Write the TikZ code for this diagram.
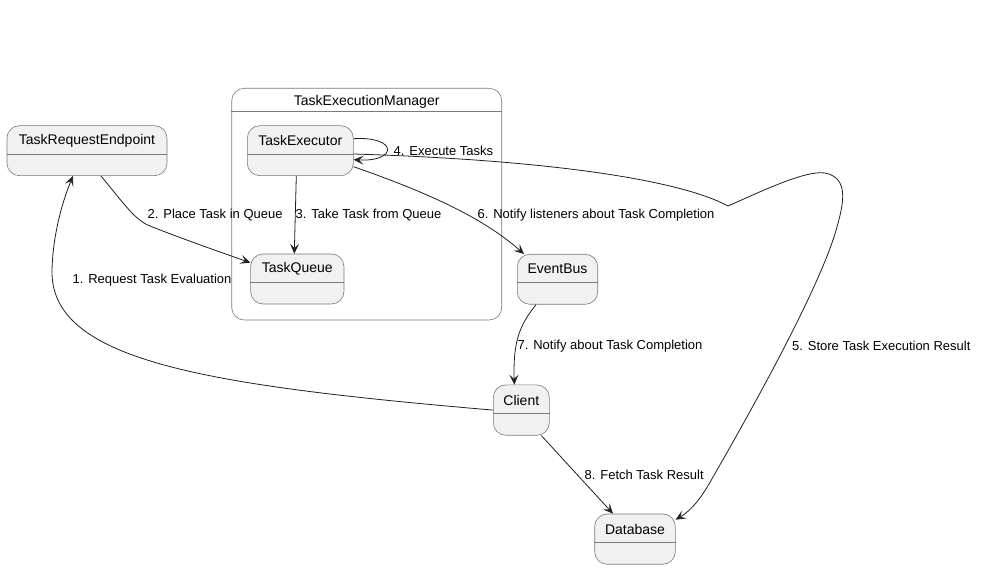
\documentclass[tikz,border=0pt]{standalone}
\usepackage{fontspec}
\setmainfont{Liberation Sans}
\usetikzlibrary{calc,arrows.meta}
\definecolor{stfill}{HTML}{F1F1F1}
\definecolor{stline}{HTML}{7A7A7A}
\definecolor{arline}{HTML}{202020}
\begin{document}
\begin{tikzpicture}[x=1pt,y=-1pt,
  statebox/.style={draw=stline,line width=0.6pt,fill=stfill,rounded corners=12.5pt,inner sep=0pt},
  clusterbox/.style={draw=stline,line width=0.6pt,fill=white,rounded corners=12.5pt,inner sep=0pt},
  divider/.style={draw=stline,line width=0.6pt},
  stname/.style={font=\fontsize{14}{16}\selectfont,inner sep=0pt,anchor=center},
  elabel/.style={font=\fontsize{13}{15}\selectfont,inner sep=0pt,anchor=west,text=black},
  conn/.style={draw=arline,line width=0.8pt,-{Stealth[length=10pt,width=9pt,inset=4.5pt]}}
]
\useasboundingbox (0,0) rectangle (986,569);
\fill[white] (0,0) rectangle (986,569);

% cluster
\node[clusterbox,minimum width=270pt,minimum height=231.7pt] (tem) at (366.7,204.15) {};
\draw[divider] (tem.west |- 0,111.7) -- (tem.east |- 0,111.7);
\node[stname] (tem-t) at (366.7,102) {TaskExecutionManager};

% states
\node[statebox,minimum width=160pt,minimum height=50pt] (tre) at (87,150.7) {};
\draw[divider] (tre.west |- 0,154) -- (tre.east |- 0,154);
\node[stname] (tre-t) at (87,140.5) {TaskRequestEndpoint};

\node[statebox,minimum width=106pt,minimum height=50pt] (exe) at (300.3,150.7) {};
\draw[divider] (exe.west |- 0,154) -- (exe.east |- 0,154);
\node[stname] (exe-t) at (300.3,140.5) {TaskExecutor};

\node[statebox,minimum width=93.3pt,minimum height=50pt] (que) at (297.3,279) {};
\draw[divider] (que.west |- 0,282.3) -- (que.east |- 0,282.3);
\node[stname] (que-t) at (297.3,268.5) {TaskQueue};

\node[statebox,minimum width=80.4pt,minimum height=50pt] (bus) at (557.5,279.3) {};
\draw[divider] (bus.west |- 0,282.7) -- (bus.east |- 0,282.7);
\node[stname] (bus-t) at (557.5,269) {EventBus};

\node[statebox,minimum width=56pt,minimum height=50.3pt] (cli) at (521.3,410.1) {};
\draw[divider] (cli.west |- 0,413.3) -- (cli.east |- 0,413.3);
\node[stname] (cli-t) at (521.3,400) {Client};

\node[statebox,minimum width=80.6pt,minimum height=50.3pt] (db) at (635,539.1) {};
\draw[divider] (db.west |- 0,542.3) -- (db.east |- 0,542.3);
\node[stname] (db-t) at (635,529) {Database};

% connectors
% 1
\draw[conn] (cli.west) .. controls (200,385) and (50,360) .. (52,270)
   .. controls (53,230) and (65,195) .. ($(tre.south)+(-14,0)$);
\node[elabel] (l1) at (72.5,280) {1. Request Task Evaluation};
% 2
\draw[conn] ($(tre.south)+(14,0)$) .. controls (125,205) and (135,220) .. (150,226)
   .. controls (180,238) and (220,252) .. ($(que.north west)+(0,9)$);
\node[elabel] (l2) at (147.5,215.5) {2. Place Task in Queue};
% 3
\draw[conn] ($(exe.south)+(-4,0)$) -- ($(que.north)+(-3,0)$);
\node[elabel] (l3) at (295.5,215.5) {3. Take Task from Queue};
% 4
\draw[conn] ($(exe.east)+(0,-12)$) .. controls (398,136) and (398,162) .. ($(exe.east)+(0,9)$);
\node[elabel] (l4) at (393.5,151) {4. Execute Tasks};
% 5
\draw[conn] ($(exe.east)+(0,3.3)$) .. controls (550,160) and (680,180) .. (728,206)
   .. controls (760,192) and (805,170) .. (825,173)
   .. controls (850,178) and (843,205) .. (837,227)
   .. controls (820,290) and (740,430) .. (713,477)
   .. controls (702,497) and (692,510) .. ($(db.north east)+(0,6)$);
\node[elabel] (l5) at (792,346) {5. Store Task Execution Result};
% 6
\draw[conn] ($(exe.east)+(0,16)$) .. controls (420,190) and (480,215) .. ($(bus.north west)+(7,0)$);
\node[elabel] (l6) at (477.5,215.5) {6. Notify listeners about Task Completion};
% 7
\draw[conn] ($(bus.south)+(-21.5,0)$) .. controls (520,325) and (513,340) .. ($(cli.north)+(-7,0)$);
\node[elabel] (l7) at (517.5,346) {7. Notify about Task Completion};
% 8
\draw[conn] ($(cli.south)+(20,0)$) -- ($(db.north)+(-22,0)$);
\node[elabel] (l8) at (584.5,475) {8. Fetch Task Result};
\end{tikzpicture}
\end{document}
